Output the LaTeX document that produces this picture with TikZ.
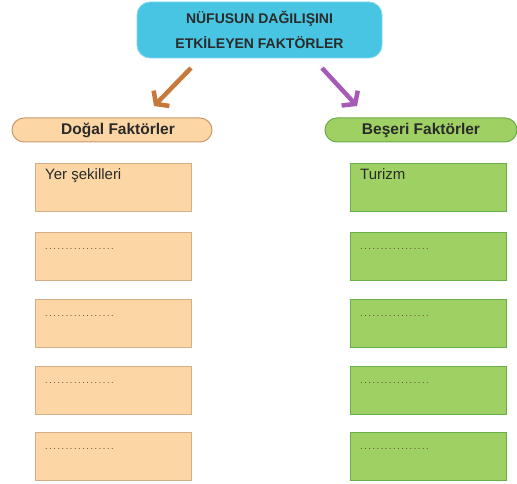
\documentclass[tikz,border=0pt]{standalone}
\usepackage{fontspec}
\setmainfont{Liberation Sans}
\newfontfamily\dotfont[LetterSpace=18]{Liberation Sans}
\usetikzlibrary{arrows.meta}
\definecolor{cyanbox}{HTML}{48C5E2}
\definecolor{cyanedge}{HTML}{7FD8EC}
\definecolor{peach}{HTML}{FDD6A5}
\definecolor{peachedge}{HTML}{C99A6B}
\definecolor{grn}{HTML}{9FD063}
\definecolor{grnedge}{HTML}{6AAE4C}
\definecolor{arrorange}{HTML}{C8783A}
\definecolor{arrpurple}{HTML}{A65BB6}
\definecolor{txt}{HTML}{2A2A2A}
\definecolor{dotcol}{HTML}{5A3E22}
\begin{document}
\begin{tikzpicture}[x=1pt,y=-1pt,
  title/.style={draw=cyanedge,fill=cyanbox,rounded corners=13pt,line width=0.8pt,
    minimum width=245pt,minimum height=56pt,align=center,
    font=\fontsize{14}{25}\selectfont\bfseries,text=txt},
  pill/.style={rounded corners=12pt,line width=1pt,minimum height=24pt,
    font=\fontsize{15.5}{16}\selectfont\bfseries,text=txt},
  natpill/.style={pill,draw=peachedge,fill=peach,minimum width=200pt},
  humpill/.style={pill,draw=grnedge,fill=grn,minimum width=192pt},
  pilltext/.style={inner sep=0pt,font=\fontsize{15.5}{16}\selectfont\bfseries,text=txt},
  slot/.style={minimum width=156pt,minimum height=48pt,line width=1pt,
    anchor=north west,inner sep=0pt},
  natbox/.style={slot,draw=peachedge!80,fill=peach},
  humbox/.style={slot,draw=grnedge,fill=grn},
  slottext/.style={anchor=base west,inner sep=0pt,font=\fontsize{15}{16}\selectfont,text=txt},
  dottext/.style={anchor=base west,inner sep=0pt,font=\dotfont\fontsize{9}{10}\selectfont,text=dotcol},
  bigarrow/.style={line width=4.5pt,-{Straight Barb[length=8pt,width=22pt]}}
]
\useasboundingbox (0,0) rectangle (517,484);

\node[title] (top) at (259.5,30) {NÜFUSUN DAĞILIŞINI\\ETKİLEYEN FAKTÖRLER};

\node[natpill] (nat) at (112,130) {};
\node[pilltext] (natt) at ([xshift=6pt]nat.center) {Doğal Faktörler};
\node[humpill] (hum) at (421,130) {Beşeri Faktörler};

\coordinate (la) at (191,68);
\coordinate (lb) at (154,106);
\coordinate (ra) at (322,68);
\coordinate (rb) at (357,106);
\draw[bigarrow,draw=arrorange] (la) -- (lb);
\draw[bigarrow,draw=arrpurple] (ra) -- (rb);

% left column
\node[natbox] (n1) at (35,163) {};
\node[natbox] (n2) at (35,232) {};
\node[natbox] (n3) at (35,299) {};
\node[natbox] (n4) at (35,366) {};
\node[natbox] (n5) at (35,432) {};
\node[slottext] (n1t) at ([shift={(10,17)}]n1.north west) {Yer şekilleri};
\node[dottext] (n2t) at ([shift={(10,17)}]n2.north west) {.................};
\node[dottext] (n3t) at ([shift={(10,17)}]n3.north west) {.................};
\node[dottext] (n4t) at ([shift={(10,17)}]n4.north west) {.................};
\node[dottext] (n5t) at ([shift={(10,17)}]n5.north west) {.................};

% right column
\node[humbox] (h1) at (350,163) {};
\node[humbox] (h2) at (350,232) {};
\node[humbox] (h3) at (350,299) {};
\node[humbox] (h4) at (350,366) {};
\node[humbox] (h5) at (350,432) {};
\node[slottext] (h1t) at ([shift={(10,17)}]h1.north west) {Turizm};
\node[dottext] (h2t) at ([shift={(10,17)}]h2.north west) {.................};
\node[dottext] (h3t) at ([shift={(10,17)}]h3.north west) {.................};
\node[dottext] (h4t) at ([shift={(10,17)}]h4.north west) {.................};
\node[dottext] (h5t) at ([shift={(10,17)}]h5.north west) {.................};
\end{tikzpicture}
\end{document}
